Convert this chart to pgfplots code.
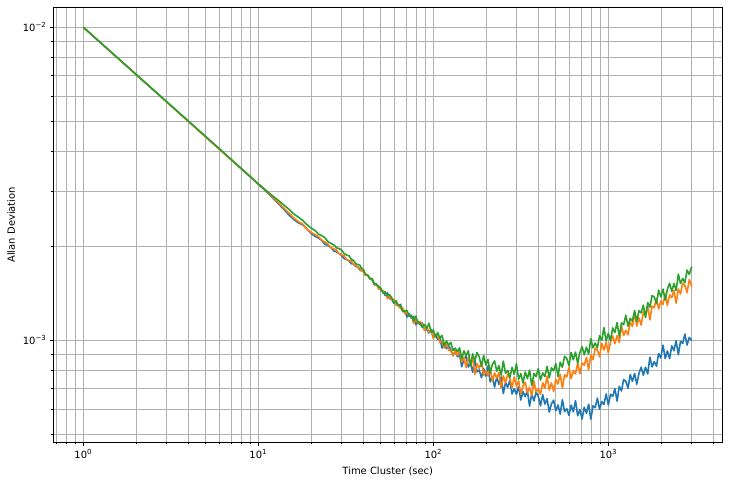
\documentclass[border=0pt]{standalone}
\usepackage{fontspec}
\setmainfont{DejaVu Sans}
\usepackage{pgfplots}
\usepackage{pgfplotstable}
\pgfplotsset{compat=1.18}
\definecolor{tabblue}{HTML}{1F77B4}
\definecolor{taborange}{HTML}{FF7F0E}
\definecolor{tabgreen}{HTML}{2CA02C}
\definecolor{gridgray}{HTML}{B0B0B0}
\newcommand{\tp}[1]{10\textsuperscript{#1}}
\pgfplotstableread{
tau blue orange green
1 1.000e-2 1.000e-2 1.000e-2
2 7.071e-3 7.068e-3 7.074e-3
3 5.774e-3 5.770e-3 5.776e-3
4 5.000e-3 4.992e-3 5.004e-3
5 4.472e-3 4.460e-3 4.478e-3
6 4.080e-3 4.072e-3 4.086e-3
7 3.776e-3 3.772e-3 3.782e-3
8 3.530e-3 3.529e-3 3.536e-3
9 3.327e-3 3.330e-3 3.334e-3
10 3.150e-3 3.155e-3 3.160e-3
11 3.0012e-3 3.0151e-3 3.0220e-3
12 2.8602e-3 2.8735e-3 2.9001e-3
13 2.7355e-3 2.7544e-3 2.7993e-3
14 2.6178e-3 2.6421e-3 2.7036e-3
15 2.5115e-3 2.5466e-3 2.6179e-3
16 2.4263e-3 2.4543e-3 2.5290e-3
17 2.3701e-3 2.3922e-3 2.4705e-3
18 2.3353e-3 2.3462e-3 2.4119e-3
19 2.2628e-3 2.2575e-3 2.3369e-3
20 2.1951e-3 2.2106e-3 2.2828e-3
21 2.1523e-3 2.1772e-3 2.2485e-3
22 2.1222e-3 2.1467e-3 2.1868e-3
23 2.0851e-3 2.0899e-3 2.1583e-3
24 2.0271e-3 2.0602e-3 2.1276e-3
25 2.0092e-3 2.0278e-3 2.0656e-3
26 1.9794e-3 1.9747e-3 2.0394e-3
27 1.9289e-3 1.9603e-3 2.0198e-3
28 1.9161e-3 1.9384e-3 1.9743e-3
29 1.8915e-3 1.8871e-3 1.9625e-3
30 1.8639e-3 1.8768e-3 1.9383e-3
31 1.8211e-3 1.8591e-3 1.8895e-3
32 1.8132e-3 1.8090e-3 1.8726e-3
33 1.7937e-3 1.7979e-3 1.8611e-3
34 1.7550e-3 1.7917e-3 1.8124e-3
35 1.7537e-3 1.7417e-3 1.7987e-3
36 1.7213e-3 1.7372e-3 1.7574e-3
37 1.7175e-3 1.7057e-3 1.7454e-3
38 1.6791e-3 1.7025e-3 1.7382e-3
39 1.6652e-3 1.6652e-3 1.6962e-3
39.81 1.661e-3 1.654e-3 1.687e-3
40.97 1.612e-3 1.611e-3 1.626e-3
42.17 1.617e-3 1.613e-3 1.615e-3
43.40 1.570e-3 1.571e-3 1.577e-3
44.67 1.560e-3 1.575e-3 1.574e-3
45.97 1.504e-3 1.513e-3 1.517e-3
47.32 1.502e-3 1.504e-3 1.514e-3
48.70 1.489e-3 1.458e-3 1.479e-3
50.12 1.443e-3 1.461e-3 1.470e-3
51.58 1.436e-3 1.426e-3 1.415e-3
53.09 1.389e-3 1.432e-3 1.428e-3
54.64 1.418e-3 1.359e-3 1.386e-3
56.23 1.359e-3 1.378e-3 1.398e-3
57.88 1.351e-3 1.347e-3 1.366e-3
59.57 1.311e-3 1.353e-3 1.319e-3
61.31 1.326e-3 1.293e-3 1.337e-3
63.10 1.287e-3 1.294e-3 1.291e-3
64.94 1.303e-3 1.261e-3 1.292e-3
66.83 1.239e-3 1.270e-3 1.234e-3
68.79 1.239e-3 1.214e-3 1.243e-3
70.80 1.187e-3 1.225e-3 1.245e-3
72.86 1.216e-3 1.194e-3 1.191e-3
74.99 1.176e-3 1.202e-3 1.200e-3
77.18 1.193e-3 1.133e-3 1.153e-3
79.43 1.120e-3 1.166e-3 1.194e-3
81.75 1.149e-3 1.128e-3 1.136e-3
84.14 1.121e-3 1.148e-3 1.134e-3
86.60 1.136e-3 1.121e-3 1.098e-3
89.13 1.076e-3 1.076e-3 1.123e-3
91.73 1.086e-3 1.106e-3 1.092e-3
94.41 1.055e-3 1.063e-3 1.134e-3
97.16 1.083e-3 1.078e-3 1.060e-3
100.0 1.019e-3 1.014e-3 1.079e-3
102.9 1.040e-3 1.036e-3 1.025e-3
105.9 1.007e-3 1.039e-3 1.058e-3
109.0 1.016e-3 9.834e-4 1.017e-3
112.2 9.441e-4 9.931e-4 1.037e-3
115.5 9.795e-4 9.446e-4 9.610e-4
118.9 9.397e-4 9.874e-4 9.943e-4
122.3 9.616e-4 9.284e-4 9.666e-4
125.9 9.333e-4 9.268e-4 9.840e-4
129.6 8.921e-4 8.948e-4 9.279e-4
133.4 9.263e-4 9.258e-4 9.441e-4
137.3 8.854e-4 8.938e-4 9.193e-4
141.3 8.984e-4 9.268e-4 9.462e-4
145.4 8.230e-4 8.514e-4 8.722e-4
149.6 8.707e-4 8.830e-4 9.253e-4
154.0 8.905e-4 8.176e-4 8.913e-4
158.5 8.208e-4 8.804e-4 9.258e-4
163.1 8.502e-4 8.331e-4 8.275e-4
167.9 7.897e-4 8.790e-4 9.048e-4
172.8 8.711e-4 7.778e-4 8.577e-4
177.8 7.923e-4 8.416e-4 9.143e-4
183.0 8.037e-4 8.131e-4 8.850e-4
188.4 7.592e-4 8.544e-4 8.251e-4
193.9 8.130e-4 7.720e-4 8.945e-4
199.5 7.680e-4 8.010e-4 8.338e-4
205.4 8.280e-4 7.692e-4 8.679e-4
211.4 7.361e-4 8.169e-4 7.868e-4
217.5 7.642e-4 7.399e-4 8.364e-4
223.9 7.085e-4 7.858e-4 8.598e-4
230.4 7.638e-4 7.578e-4 7.960e-4
237.1 7.231e-4 7.880e-4 8.288e-4
244.1 7.634e-4 7.048e-4 7.736e-4
251.2 6.759e-4 7.707e-4 8.576e-4
258.5 7.322e-4 7.311e-4 7.846e-4
266.1 7.082e-4 7.800e-4 8.004e-4
273.8 7.450e-4 7.556e-4 7.604e-4
281.8 6.739e-4 7.049e-4 8.192e-4
290.1 7.000e-4 7.646e-4 7.782e-4
298.5 6.715e-4 7.133e-4 8.419e-4
307.3 7.123e-4 7.421e-4 7.511e-4
316.2 6.444e-4 6.722e-4 7.825e-4
325.5 6.849e-4 7.147e-4 7.301e-4
335.0 6.611e-4 7.348e-4 7.920e-4
344.8 6.880e-4 6.804e-4 7.546e-4
354.8 6.159e-4 7.084e-4 8.017e-4
365.2 6.742e-4 6.652e-4 7.167e-4
375.8 6.399e-4 7.418e-4 7.837e-4
386.8 6.831e-4 6.838e-4 7.650e-4
398.1 6.620e-4 6.995e-4 8.123e-4
409.7 6.177e-4 6.719e-4 7.460e-4
421.7 6.703e-4 7.317e-4 7.868e-4
434.0 6.252e-4 7.028e-4 7.663e-4
446.7 6.505e-4 7.687e-4 8.255e-4
459.7 5.895e-4 6.934e-4 7.582e-4
473.2 6.263e-4 7.302e-4 8.165e-4
487.0 6.434e-4 6.869e-4 7.987e-4
501.2 5.953e-4 7.512e-4 8.424e-4
515.8 6.212e-4 7.246e-4 7.657e-4
530.9 5.811e-4 7.794e-4 8.510e-4
546.4 6.458e-4 7.031e-4 8.201e-4
562.3 5.917e-4 7.755e-4 8.889e-4
578.8 6.046e-4 7.639e-4 8.748e-4
595.7 5.754e-4 8.182e-4 8.291e-4
613.1 6.207e-4 7.537e-4 9.138e-4
631.0 5.907e-4 7.973e-4 8.660e-4
649.4 6.412e-4 7.808e-4 9.166e-4
668.3 5.740e-4 8.456e-4 8.448e-4
687.9 6.001e-4 7.810e-4 9.131e-4
708.0 5.602e-4 8.458e-4 9.543e-4
728.6 6.109e-4 8.318e-4 8.983e-4
749.9 5.845e-4 8.821e-4 9.506e-4
771.8 6.248e-4 8.044e-4 9.023e-4
794.3 5.596e-4 8.971e-4 1.012e-3
817.5 6.178e-4 8.675e-4 9.452e-4
841.4 6.091e-4 9.432e-4 9.797e-4
866.0 6.530e-4 9.312e-4 9.455e-4
891.3 6.020e-4 8.853e-4 1.035e-3
917.3 6.373e-4 9.788e-4 9.986e-4
944.1 6.231e-4 9.306e-4 1.097e-3
971.6 6.736e-4 9.867e-4 9.955e-4
1000 6.210e-4 9.110e-4 1.053e-3
1029 6.724e-4 9.869e-4 9.964e-4
1059 6.611e-4 1.034e-3 1.095e-3
1090 7.010e-4 9.753e-4 1.058e-3
1122 6.390e-4 1.035e-3 1.139e-3
1155 7.125e-4 9.841e-4 1.028e-3
1189 6.888e-4 1.112e-3 1.136e-3
1223 7.489e-4 1.036e-3 1.121e-3
1259 7.394e-4 1.076e-3 1.202e-3
1296 7.031e-4 1.041e-3 1.109e-3
1334 7.773e-4 1.144e-3 1.175e-3
1373 7.390e-4 1.107e-3 1.151e-3
1413 7.834e-4 1.221e-3 1.245e-3
1454 7.235e-4 1.110e-3 1.149e-3
1496 7.833e-4 1.179e-3 1.244e-3
1540 8.200e-4 1.118e-3 1.223e-3
1585 7.732e-4 1.232e-3 1.295e-3
1631 8.204e-4 1.192e-3 1.183e-3
1679 7.807e-4 1.285e-3 1.319e-3
1728 8.821e-4 1.162e-3 1.276e-3
1778 8.220e-4 1.286e-3 1.390e-3
1830 8.542e-4 1.269e-3 1.373e-3
1884 8.266e-4 1.363e-3 1.307e-3
1939 9.070e-4 1.259e-3 1.446e-3
1995 8.777e-4 1.335e-3 1.375e-3
2054 9.644e-4 1.303e-3 1.457e-3
2114 8.739e-4 1.406e-3 1.344e-3
2175 9.245e-4 1.293e-3 1.454e-3
2239 8.736e-4 1.396e-3 1.521e-3
2304 9.599e-4 1.367e-3 1.433e-3
2371 9.261e-4 1.445e-3 1.518e-3
2441 9.966e-4 1.313e-3 1.442e-3
2512 8.993e-4 1.458e-3 1.627e-3
2585 9.921e-4 1.406e-3 1.517e-3
2661 9.776e-4 1.523e-3 1.577e-3
2738 1.047e-3 1.498e-3 1.527e-3
2818 9.652e-4 1.419e-3 1.676e-3
2901 1.021e-3 1.563e-3 1.623e-3
3000 9.978e-4 1.481e-3 1.720e-3
}\allan
\begin{document}
\begin{tikzpicture}
\begin{axis}[
  xmode=log, ymode=log,
  scale only axis, width=669bp, height=435bp,
  xmin=0.674, xmax=4480, ymin=4.72e-4, ymax=1.158e-2,
  xtick pos=bottom, ytick pos=left,
  xtick={1,10,100,1000},
  xticklabels={\tp{0},\tp{1},\tp{2},\tp{3}},
  minor xtick={0.7,0.8,0.9,2,3,4,5,6,7,8,9,20,30,40,50,60,70,80,90,200,300,400,500,600,700,800,900,2000,3000,4000},
  ytick={1e-3,1e-2},
  yticklabels={\tp{−3},\tp{−2}},
  minor ytick={5e-4,6e-4,7e-4,8e-4,9e-4,2e-3,3e-3,4e-3,5e-3,6e-3,7e-3,8e-3,9e-3},
  grid=both,
  major grid style={draw=gridgray, line width=0.8bp},
  minor grid style={draw=gridgray, line width=0.8bp},
  tick align=outside,
  major tick length=3.5bp, minor tick length=2bp,
  every tick/.style={black, line width=0.8bp},
  axis line style={line width=0.8bp},
  tick label style={font=\fontsize{10}{12}\selectfont},
  label style={font=\fontsize{10}{12}\selectfont},
  xlabel={Time Cluster (sec)},
  ylabel={Allan Deviation},
  xlabel style={at={(axis description cs:0.5,0)}, anchor=center, yshift=-29bp},
  ylabel style={at={(axis description cs:-0.0628,0.5)}, anchor=center},
  every axis plot/.append style={line width=1.6bp, line join=round},
]
\addplot[tabblue] table[x=tau, y=blue] {\allan};
\addplot[taborange] table[x=tau, y=orange] {\allan};
\addplot[tabgreen] table[x=tau, y=green] {\allan};
\coordinate (sw) at (rel axis cs:0,0);
\coordinate (ne) at (rel axis cs:1,1);
\end{axis}
\pgfresetboundingbox
\path[use as bounding box] ([shift={(-53.3bp,-41.7bp)}]sw) rectangle ([shift={(6.7bp,7.3bp)}]ne);
\end{tikzpicture}
\end{document}
